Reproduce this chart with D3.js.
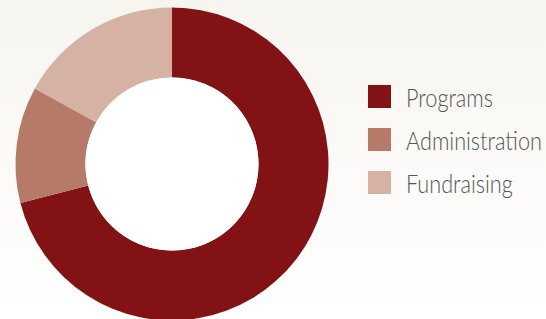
<!DOCTYPE html>
<html>
<head>
<meta charset="utf-8">
<script src="https://cdn.jsdelivr.net/npm/d3@7"></script>
<style>
  html, body { margin: 0; padding: 0; }
  svg { display: block; }
  .legend text { font-family: Lato, "Open Sans", sans-serif; font-weight: 300; fill: #555555; }
</style>
</head>
<body>
<div id="chart"></div>
<script>
// spending breakdown (share of total, %)
var categories = ["Programs", "Administration", "Fundraising"];
var values = [71, 12, 17];
var colors = ["#821214", "#b57a68", "#d6b2a5"];

var width = 546, height = 319;
var cx = 172, cy = 164;
var outerR = 156.5, innerR = 86.5;

var svg = d3.select("#chart").append("svg")
    .attr("width", width)
    .attr("height", height);

// soft beige to white backdrop
var grad = svg.append("defs").append("linearGradient")
    .attr("id", "bg").attr("x1", 0).attr("y1", 0).attr("x2", 0).attr("y2", 1);
grad.append("stop").attr("offset", "0%").attr("stop-color", "#f7f5f0");
grad.append("stop").attr("offset", "100%").attr("stop-color", "#ffffff");
svg.append("rect").attr("width", width).attr("height", height).attr("fill", "url(#bg)");

var color = d3.scaleOrdinal().domain(categories).range(colors);

var pie = d3.pie().sort(null).value(function(d) { return d.value; });
var arc = d3.arc().innerRadius(innerR).outerRadius(outerR);

var data = categories.map(function(c, i) { return {name: c, value: values[i]}; });

var g = svg.append("g").attr("transform", "translate(" + cx + "," + cy + ")");
g.selectAll("path")
    .data(pie(data))
    .enter().append("path")
    .attr("d", arc)
    .attr("fill", function(d) { return color(d.data.name); });

// white hole
g.append("circle").attr("r", innerR).attr("fill", "#ffffff");

// legend
var y = d3.scalePoint().domain(categories).range([85, 171]);
var legend = svg.append("g").attr("class", "legend");
var item = legend.selectAll("g")
    .data(categories)
    .enter().append("g")
    .attr("transform", function(d) { return "translate(368," + y(d) + ")"; });
item.append("rect")
    .attr("width", 23).attr("height", 23)
    .attr("fill", function(d) { return color(d); });
var labels = item.append("text")
    .style("font-size", "25px")
    .text(function(d) { return d; });

// the original face is narrower; squeeze horizontally so the longest label fits
var widest = d3.max(labels.nodes(), function(n) { return n.getComputedTextLength(); });
var k = 136 / widest;
labels.attr("transform", "translate(38,22) scale(" + k + ",1)");
</script>
</body>
</html>
